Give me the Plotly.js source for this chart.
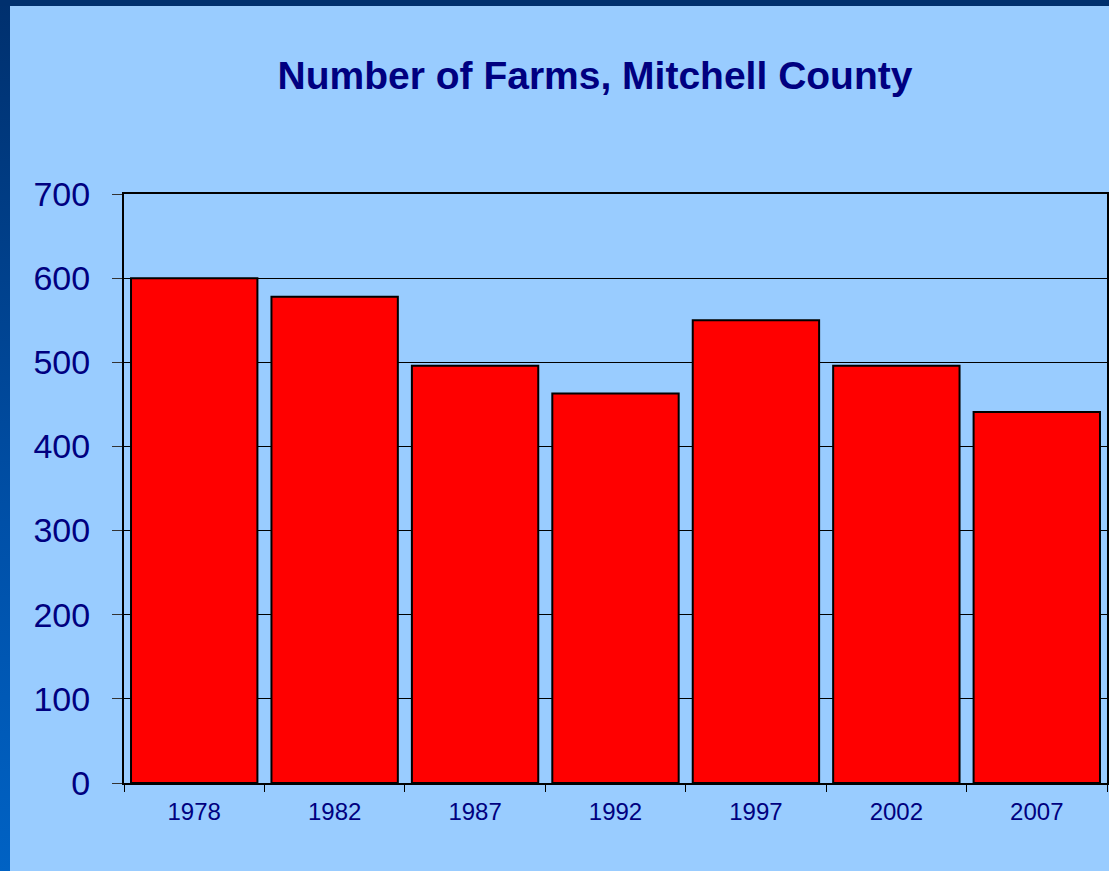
<!DOCTYPE html>
<html>
<head>
<meta charset="utf-8">
<script src="https://cdn.plot.ly/plotly-3.0.1.min.js"></script>
<style>
  html, body { margin: 0; padding: 0; }
  body {
    width: 1109px; height: 871px; overflow: hidden;
    background: linear-gradient(to bottom, #00306E 0%, #0050A8 60%, #0062C4 100%);
  }
  #top { position: absolute; left: 0; top: 0; width: 1109px; height: 6px; background: #00306E; }
  #chart { position: absolute; left: 10px; top: 6px; width: 1099px; height: 865px; }
</style>
</head>
<body>
<div id="top"></div>
<div id="chart"></div>
<script>
const years = ['1978', '1982', '1987', '1992', '1997', '2002', '2007'];
const farms = [600, 578, 496, 463, 550, 496, 441];
const yTicks = [0, 100, 200, 300, 400, 500, 600, 700];
const chartTitle = 'Number of Farms, Mitchell County';

const trace = {
  type: 'bar',
  x: years,
  y: farms,
  marker: { color: '#FF0000', line: { color: '#000000', width: 2 } },
  hoverinfo: 'x+y'
};

const layout = {
  width: 1099,
  height: 865,
  paper_bgcolor: '#99CCFF',
  plot_bgcolor: '#99CCFF',
  margin: { l: 113.5, r: 2, t: 188, b: 88 },
  bargap: 0.1,
  showlegend: false,
  title: {
    text: '<b>' + chartTitle + '</b>',
    font: { family: 'Liberation Sans, Arial, sans-serif', size: 39, color: '#000080' },
    x: (595 - 10) / 1099, xref: 'container', xanchor: 'center',
    y: 1 - (75 - 6) / 865, yref: 'container', yanchor: 'middle'
  },
  xaxis: {
    type: 'category',
    tickson: 'boundaries',
    ticks: 'outside', ticklen: 7, tickwidth: 1, tickcolor: '#000000',
    showline: true, linecolor: '#000000', linewidth: 2, mirror: true,
    showgrid: false,
    tickfont: { family: 'Liberation Sans, Arial, sans-serif', size: 24, color: '#000080' },
    ticklabelstandoff: 6
  },
  yaxis: {
    range: [0, 700],
    tickvals: yTicks,
    ticktext: yTicks.map(String),
    ticks: 'outside', ticklen: 10, tickwidth: 1, tickcolor: '#333333',
    showline: true, linecolor: '#000000', linewidth: 2, mirror: true,
    showgrid: true, gridcolor: '#000000', gridwidth: 1,
    zeroline: false,
    tickfont: { family: 'Liberation Sans, Arial, sans-serif', size: 34, color: '#000080' },
    ticklabelstandoff: 15
  }
};

Plotly.newPlot('chart', [trace], layout, { displayModeBar: false, staticPlot: true });
</script>
</body>
</html>
